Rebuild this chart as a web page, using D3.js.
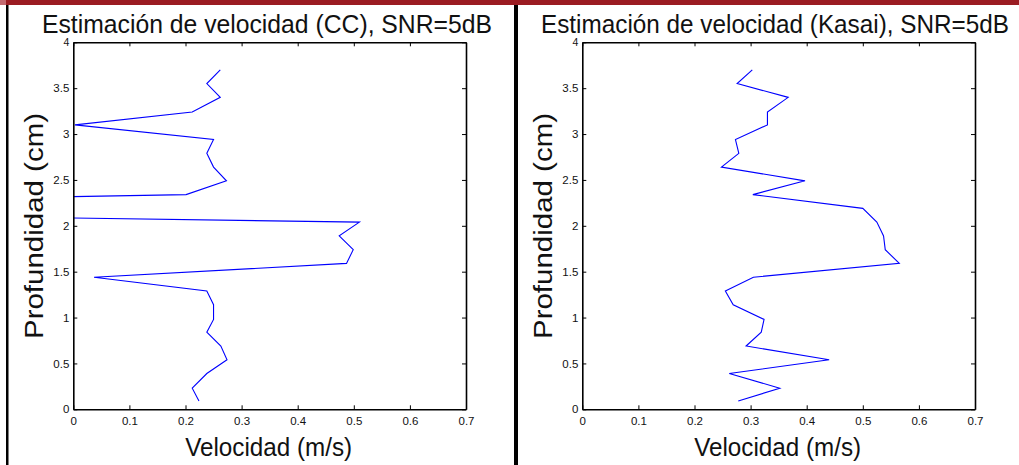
<!DOCTYPE html>
<html>
<head>
<meta charset="utf-8">
<script src="https://cdn.jsdelivr.net/npm/d3@7"></script>
<style>
  html, body { margin: 0; padding: 0; background: #fff; }
  svg { display: block; }
  text { font-family: "Liberation Sans", Arial, Helvetica, sans-serif; fill: #111; }
</style>
</head>
<body>
<svg id="chart" width="1019" height="465"></svg>
<script>
// ---- data ----
const depthCm = [0.09, 0.23, 0.39, 0.54, 0.69, 0.84, 0.98, 1.14, 1.29, 1.44, 1.59, 1.74, 1.89,
                 2.04, 2.19, 2.34, 2.49, 2.64, 2.79, 2.94, 3.10, 3.24, 3.40, 3.55, 3.70];
const velocityCC = [0.224, 0.212, 0.238, 0.274, 0.263, 0.238, 0.250, 0.250, 0.238, 0.037, 0.487, 0.499, 0.474,
                    0.510, -1.2, 0.201, 0.273, 0.250, 0.238, 0.250, 0.003, 0.212, 0.262, 0.238, 0.262];
const velocityKasai = [0.278, 0.352, 0.262, 0.440, 0.292, 0.319, 0.324, 0.269, 0.255, 0.305, 0.565, 0.540, 0.537,
                       0.525, 0.500, 0.304, 0.397, 0.248, 0.279, 0.273, 0.330, 0.330, 0.367, 0.276, 0.303];
const xTicks = [0, 0.1, 0.2, 0.3, 0.4, 0.5, 0.6, 0.7];
const yTicks = [0, 0.5, 1, 1.5, 2, 2.5, 3, 3.5, 4];
const titles = ["Estimación de velocidad (CC), SNR=5dB", "Estimación de velocidad (Kasai), SNR=5dB"];
const xLabel = "Velocidad (m/s)";
const yLabel = "Profundidad (cm)";

const svg = d3.select("#chart");
const W = 1019, H = 465;

// frame decorations
svg.append("rect").attr("x", 0).attr("y", 0).attr("width", W).attr("height", 5).attr("fill", "#9b1c22");
svg.append("rect").attr("x", 0).attr("y", 0).attr("width", 6).attr("height", 5).attr("fill", "#c46a70");
svg.append("rect").attr("x", 6).attr("y", 5).attr("width", 2.5).attr("height", H - 5).attr("fill", "#000");
svg.append("rect").attr("x", 514).attr("y", 5).attr("width", 4).attr("height", H - 5).attr("fill", "#000");

const panels = [
  { x0: 73.3, x1: 466, series: velocityCC, title: titles[0], tw: 450, tc: 267, yl: 34 },
  { x0: 582.3, x1: 975, series: velocityKasai, title: titles[1], tw: 468, tc: 775, yl: 543 }
];
const yTop = 42.3, yBot = 409.3;

panels.forEach((p, i) => {
  const x = d3.scaleLinear().domain([0, 0.7]).range([p.x0, p.x1]);
  const y = d3.scaleLinear().domain([0, 4]).range([yBot, yTop]);
  const g = svg.append("g");

  const clipId = "clip" + i;
  svg.append("clipPath").attr("id", clipId).append("rect")
    .attr("x", p.x0).attr("y", yTop).attr("width", p.x1 - p.x0).attr("height", yBot - yTop);

  // data line
  const pts = depthCm.map((d, k) => [p.series[k], d]);
  g.append("path")
    .attr("clip-path", `url(#${clipId})`)
    .attr("d", d3.line().x(d => x(d[0])).y(d => y(d[1]))(pts))
    .attr("fill", "none").attr("stroke", "#0000ff").attr("stroke-width", 1.1);

  const tickLen = 4;
  const bottom = g.append("g").attr("transform", `translate(0,${yBot})`)
    .call(d3.axisBottom(x).tickValues(xTicks).tickFormat(d3.format("")).tickSizeInner(-tickLen).tickSizeOuter(0).tickPadding(8));
  const top = g.append("g").attr("transform", `translate(0,${yTop})`)
    .call(d3.axisTop(x).tickValues(xTicks).tickFormat("").tickSizeInner(-tickLen).tickSizeOuter(0));
  const left = g.append("g").attr("transform", `translate(${p.x0},0)`)
    .call(d3.axisLeft(y).tickValues(yTicks).tickFormat(d3.format("")).tickSizeInner(-tickLen).tickSizeOuter(0).tickPadding(4));
  const right = g.append("g").attr("transform", `translate(${p.x1},0)`)
    .call(d3.axisRight(y).tickValues(yTicks).tickFormat("").tickSizeInner(-tickLen).tickSizeOuter(0));

  [bottom, top, left, right].forEach(a => {
    a.select(".domain").attr("stroke", "#000").attr("stroke-width", 1.6);
    a.selectAll(".tick line").attr("stroke", "#000").attr("stroke-width", 1);
    a.selectAll(".tick text").attr("font-size", 11.5).attr("fill", "#111")
      .attr("font-family", '"Liberation Sans", Arial, sans-serif');
  });
  left.select(".tick:last-of-type text").attr("font-size", 10.5);

  g.append("text").attr("x", p.tc).attr("y", 33).attr("text-anchor", "middle")
    .attr("font-size", 25).attr("textLength", p.tw).attr("lengthAdjust", "spacingAndGlyphs")
    .text(p.title);
  g.append("text").attr("x", (p.x0 + p.x1) / 2 - 1).attr("y", 456).attr("text-anchor", "middle")
    .attr("font-size", 26).attr("textLength", 167).attr("lengthAdjust", "spacingAndGlyphs")
    .text(xLabel);
  g.append("text").attr("transform", `translate(${p.yl + 9},${226}) rotate(-90)`)
    .attr("text-anchor", "middle")
    .attr("font-size", 26).attr("textLength", 226).attr("lengthAdjust", "spacingAndGlyphs")
    .text(yLabel);
});
</script>
</body>
</html>
